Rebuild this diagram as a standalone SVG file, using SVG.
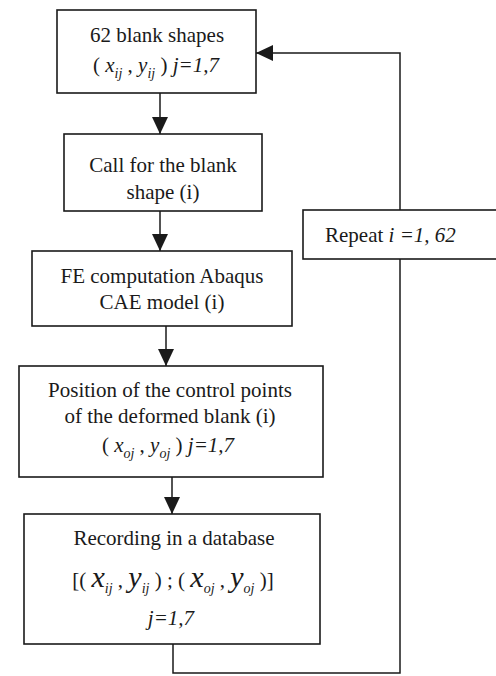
<svg xmlns="http://www.w3.org/2000/svg" width="496" height="676" viewBox="0 0 496 676">
<style>
  .box { fill: #fff; stroke: #1a1a1a; stroke-width: 1.6; }
  .ln { fill: none; stroke: #1a1a1a; stroke-width: 1.5; }
  text { font-family: "Liberation Serif", "Times New Roman", serif; font-size: 21px; fill: #1a1a1a; }
  .it { font-style: italic; }
  .sub { font-style: italic; font-size: 14px; }
  .big { font-style: italic; font-size: 30px; }
</style>
<defs>
  <marker id="ah" markerUnits="userSpaceOnUse" markerWidth="17" markerHeight="16" refX="17" refY="8" orient="auto">
    <path d="M0,0 L17,8 L0,16 z" fill="#1a1a1a"/>
  </marker>
</defs>
<rect width="496" height="676" fill="#fff"/>
<g id="connectors">
  <line class="ln" x1="160" y1="93" x2="160" y2="134" marker-end="url(#ah)"/>
  <line class="ln" x1="160" y1="211" x2="160" y2="251" marker-end="url(#ah)"/>
  <line class="ln" x1="166" y1="326" x2="166" y2="366" marker-end="url(#ah)"/>
  <line class="ln" x1="172" y1="477" x2="172" y2="514" marker-end="url(#ah)"/>
  <polyline class="ln" points="173,644 173,673 400,673 400,259"/>
  <polyline class="ln" points="400,210 400,53 256,53" marker-end="url(#ah)"/>
</g>
<g id="n1">
  <rect class="box" x="57" y="10" width="199" height="83"/>
  <text x="157" y="42" text-anchor="middle">62 blank shapes</text>
  <text x="156" y="72" text-anchor="middle">( <tspan class="it">x</tspan><tspan class="sub" dy="6">ij</tspan><tspan dy="-6"> , </tspan><tspan class="it">y</tspan><tspan class="sub" dy="6">ij</tspan><tspan dy="-6"> ) </tspan><tspan class="it">j=1,7</tspan></text>
</g>
<g id="n2">
  <rect class="box" x="64" y="134" width="198" height="77"/>
  <text x="163" y="172" text-anchor="middle">Call for the blank</text>
  <text x="163" y="199" text-anchor="middle">shape (i)</text>
</g>
<g id="n3">
  <rect class="box" x="32" y="251" width="260" height="75"/>
  <text x="162" y="283" text-anchor="middle">FE computation Abaqus</text>
  <text x="162" y="309" text-anchor="middle">CAE model (i)</text>
</g>
<g id="n4">
  <rect class="box" x="19" y="366" width="304" height="111"/>
  <text x="170" y="397" text-anchor="middle">Position of the control points</text>
  <text x="170" y="423" text-anchor="middle">of the deformed blank (i)</text>
  <text x="168" y="452" text-anchor="middle">( <tspan class="it">x</tspan><tspan class="sub" dy="6">oj</tspan><tspan dy="-6"> , </tspan><tspan class="it">y</tspan><tspan class="sub" dy="6">oj</tspan><tspan dy="-6"> ) </tspan><tspan class="it">j=1,7</tspan></text>
</g>
<g id="n5">
  <rect class="box" x="24" y="514" width="296" height="130"/>
  <text x="174" y="545" text-anchor="middle">Recording in a database</text>
  <text x="173" y="587" text-anchor="middle">[( <tspan class="big">x</tspan><tspan class="sub" font-size="15" dy="6">ij</tspan><tspan dy="-6"> , </tspan><tspan class="big">y</tspan><tspan class="sub" font-size="15" dy="6">ij</tspan><tspan dy="-6"> ) ; ( </tspan><tspan class="big">x</tspan><tspan class="sub" font-size="15" dy="6">oj</tspan><tspan dy="-6"> , </tspan><tspan class="big">y</tspan><tspan class="sub" font-size="15" dy="6">oj</tspan><tspan dy="-6"> )]</tspan></text>
  <text x="171" y="625" text-anchor="middle" class="it">j=1,7</text>
</g>
<g id="n6">
  <rect class="box" x="303" y="210" width="200" height="49"/>
  <text x="325" y="242">Repeat <tspan class="it">i =1, 62</tspan></text>
</g>
</svg>
